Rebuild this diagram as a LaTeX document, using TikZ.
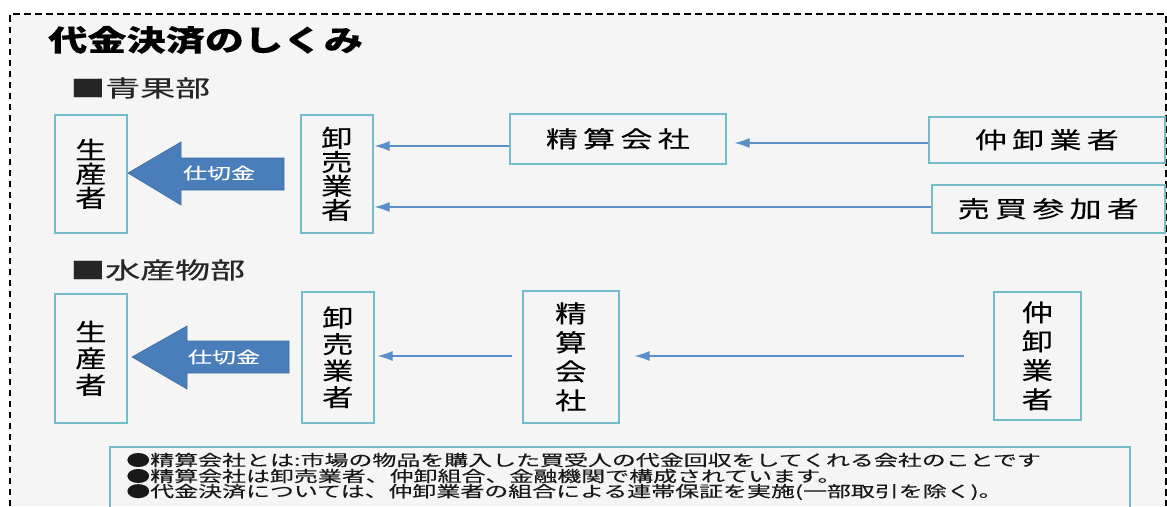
\documentclass[tikz,border=0pt]{standalone}
\usepackage{fontspec}
\setmainfont{Noto Sans CJK JP}[FakeBold=0.25]
\usetikzlibrary{arrows.meta,calc}
\definecolor{boxedge}{HTML}{74BCC9}
\definecolor{bluefill}{HTML}{4A7EBB}
\definecolor{blueline}{HTML}{5B8FC7}
\definecolor{paper}{HTML}{F5F5F5}
\tikzset{
  x=1pt,y=-1pt,
  box/.style={draw=boxedge,line width=1.6pt,fill=paper,inner sep=0pt,anchor=north west,text=black!85},
  vtext/.style={xscale=1.3,transform shape,align=center},
  vtight/.style={vtext,font=\fontsize{24}{24}\selectfont},
  vmid/.style={vtext,font=\fontsize{24}{26.5}\selectfont},
  vwide/.style={vtext,font=\fontsize{24}{29}\selectfont},
  htext/.style={xscale=1.39,transform shape,font=\fontsize{23}{27}\selectfont},
  flow/.style={draw=blueline,line width=1.1pt,-{Latex[length=15pt,width=10pt]}},
  fat/.style={fill=bluefill,draw=bluefill!85!black,line width=.6pt},
  lab/.style={xscale=1.5,transform shape,font=\fontsize{16}{18}\selectfont,text=white,inner sep=0pt},
  head/.style={xscale=1.52,transform shape,font=\fontsize{23}{27}\selectfont,anchor=west,inner sep=0pt,text=black!85},
  note/.style={xscale=1.545,transform shape,font=\fontsize{15.5}{15.5}\selectfont,anchor=west,inner sep=0pt,text=black!90},
}
\begin{document}
\begin{tikzpicture}
\useasboundingbox (0,0) rectangle (1167,506);
\fill[white] (0,0) rectangle (1167,506);
\fill[paper] (10,14) rectangle (1167,506);
\draw[black,line width=1.4pt,dash pattern=on 6.5pt off 4.5pt] (10,506) -- (10,14) -- (1166,14) -- (1166,506);

\node[inner sep=0pt,anchor=west,xscale=1.35,transform shape,font=\bfseries\fontsize{29}{32}\selectfont] (title) at (48,40) {代金決済のしくみ};
\node[head] (h1) at (70,88) {■青果部};
\node[head] (h2) at (70,270) {■水産物部};

% upper row
\node[box,minimum width=72pt,minimum height=118pt] (p1) at (54,114) {};
\node[vtight] at (p1) {生\\産\\者};
\node[box,minimum width=72pt,minimum height=118pt] (w1) at (300,114) {};
\node[vtight] at (w1) {卸\\売\\業\\者};
\node[box,minimum width=216pt,minimum height=50pt] (s1) at (509,113) {};
\node[htext] at (s1) {精\,算\,会\,社};
\node[box,minimum width=236pt,minimum height=46pt] (n1) at (928,116) {};
\node[htext] at (n1) {仲\,卸\,業\,者};
\node[box,minimum width=233pt,minimum height=48pt] (b1) at (931,184) {};
\node[htext] at (b1) {売\,買\,参\,加\,者};

\coordinate (r1a) at (0,146);
\coordinate (r1b) at (0,143);
\coordinate (r1c) at (0,207);
\draw[flow,shorten >=1pt] (s1.west |- r1a) -- (w1.east |- r1a);
\draw[flow,shorten >=8pt] (n1.west |- r1b) -- (s1.east |- r1b);
\draw[flow,shorten >=1pt] (b1.west |- r1c) -- (w1.east |- r1c);

\draw[fat] (284,158) -- (181,158) -- (181,142) -- (128,173) -- (181,205) -- (181,190) -- (284,190) -- cycle;
\node[lab] (k1) at (219,173) {仕切金};

% lower row
\node[box,minimum width=72pt,minimum height=129pt] (p2) at (54,293) {};
\node[vmid] at (p2) {生\\産\\者};
\node[box,minimum width=72pt,minimum height=131pt] (w2) at (301,291) {};
\node[vmid] at (w2) {卸\\売\\業\\者};
\node[box,minimum width=96pt,minimum height=132pt] (s2) at (522,290) {};
\node[vwide] at (s2) {精\\算\\会\\社};
\node[box,minimum width=87pt,minimum height=128pt] (n2) at (993,291) {};
\node[vwide] at (n2) {仲\\卸\\業\\者};

\coordinate (r2) at (0,356);
\draw[flow,shorten <=10pt,shorten >=3pt] (s2.west |- r2) -- (w2.east |- r2);
\draw[flow,shorten <=29pt,shorten >=15pt] (n2.west |- r2) -- (s2.east |- r2);

\draw[fat] (289,341) -- (187,341) -- (187,326) -- (132,357) -- (187,389) -- (187,373) -- (289,373) -- cycle;
\node[lab] (k2) at (224,357) {仕切金};

% note
\draw[draw=boxedge,line width=1.6pt] (110,510) -- (110,447) -- (1130,447) -- (1130,510);
\node[note] (n1t) at (126,460) {●精算会社とは:市場の物品を購入した買受人の代金回収をしてくれる会社のことです};
\node[note] (n2t) at (126,476) {●精算会社は卸売業者、仲卸組合、金融機関で構成されています。};
\node[note] (n3t) at (126,492) {●代金決済については、仲卸業者の組合による連帯保証を実施(一部取引を除く)。};
\end{tikzpicture}
\end{document}
